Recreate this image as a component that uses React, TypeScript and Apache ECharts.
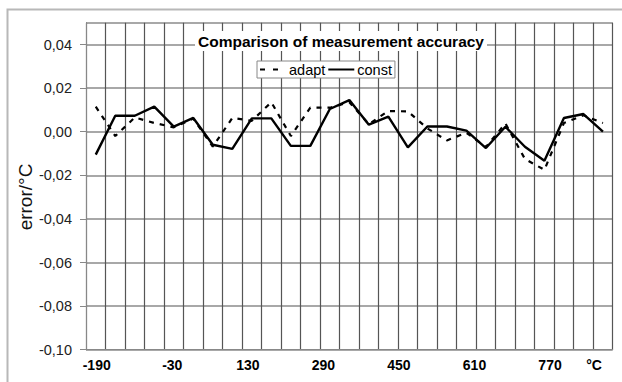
import React, { useEffect, useRef } from "react";
import * as echarts from "echarts";

const categories: string[] = [
  "-190", "-150", "-110", "-70", "-30", "10", "50", "90", "130", "170", "210", "250", "290", "330",
  "370", "410", "450", "490", "530", "570", "610", "650", "690", "730", "770", "810", "850",
];

const adaptValues: number[] = [
  0.0115, -0.002, 0.0065, 0.004, 0.002, 0.006, -0.0069, 0.0063, 0.005, 0.0135, -0.002, 0.011, 0.011, 0.0135,
  0.0035, 0.0095, 0.0093, 0.0015, -0.004, -0.0005, -0.007, 0.0038, -0.0125, -0.0175, 0.004, 0.0075, 0.004,
];

const constValues: number[] = [
  -0.0105, 0.0073, 0.0073, 0.0115, 0.0023, 0.0063, -0.006, -0.0079, 0.0061, 0.0061, -0.0065, -0.0065, 0.0104, 0.0145,
  0.0032, 0.0069, -0.0072, 0.0024, 0.0024, 0.0005, -0.0075, 0.0023, -0.0069, -0.0133, 0.0063, 0.0081, 0.0,
];

const xTickValues: number[] = [-190, -30, 130, 290, 450, 610, 770];
const xUnitLabel = "°C";
const titleText = "Comparison of measurement accuracy";
const yAxisName = "error/°C";

const FONT = "'Liberation Sans', Arial, sans-serif";

const dashedIcon = "path://M0,0H5V2H0Z M13,0H18V2H13Z M26,0L26,2L26,0Z";
const solidIcon = "path://M0,0H26V2H0Z";

export default function App() {
  const ref = useRef<HTMLDivElement>(null);

  useEffect(() => {
    if (!ref.current) return;
    const chart = echarts.init(ref.current, null, { renderer: "svg" });
    const fmtY = (v: number) => {
      if (Math.abs(v) < 1e-9) return "0,00";
      return v.toFixed(2).replace(".", ",");
    };
    chart.setOption({
      animation: false,
      backgroundColor: "#fff",
      title: {
        text: titleText,
        left: 195,
        top: 31,
        padding: [2, 3, 2, 3],
        backgroundColor: "#fff",
        textStyle: { fontFamily: FONT, fontSize: 15.5, fontWeight: "bold", color: "#000" },
      },
      legend: {
        left: 257,
        top: 61,
        padding: [1, 3, 1, 3],
        itemGap: 3,
        itemWidth: 26,
        itemHeight: 2.5,
        backgroundColor: "#fff",
        borderColor: "#888",
        borderWidth: 1,
        borderRadius: 0,
        textStyle: { fontFamily: FONT, fontSize: 14.5, color: "#000", padding: [0, 0, 0, -2] },
        data: [
          { name: "adapt", icon: dashedIcon },
          { name: "const", icon: solidIcon },
        ],
      },
      grid: { left: 86, right: 9.3, top: 22.7, bottom: 32.3, containLabel: false },
      xAxis: [
        {
          type: "category",
          data: categories,
          boundaryGap: true,
          axisLine: { show: true, onZero: false, lineStyle: { color: "#888", width: 1 } },
          axisTick: { show: false },
          axisLabel: { show: false },
          splitLine: { show: true, interval: 0, lineStyle: { color: "#555", width: 1.2 } },
        },
        {
          type: "value",
          position: "bottom",
          min: -212.66,
          max: 902.7,
          axisLine: { show: false, onZero: false },
          axisTick: { show: false },
          splitLine: { show: false },
          axisLabel: {
            customValues: xTickValues,
            margin: 8,
            fontFamily: FONT,
            fontSize: 14,
            fontWeight: "bold",
            color: "#000",
            formatter: (v: number) => String(v),
          },
        },
      ],
      yAxis: {
        type: "value",
        min: -0.1,
        max: 0.05,
        interval: 0.02,
        axisLine: { show: true, onZero: false, lineStyle: { color: "#888", width: 1 } },
        axisTick: { show: true, length: 6, lineStyle: { color: "#888" } },
        axisLabel: {
          showMaxLabel: false,
          margin: 14,
          fontFamily: FONT,
          fontSize: 14.5,
          color: "#222",
          formatter: fmtY,
        },
        splitLine: { show: true, lineStyle: { color: "#a8a8a8", width: 2 } },
      },
      graphic: [
        {
          type: "rect",
          silent: true,
          z: -10,
          shape: { x: 7.5, y: 9.5, width: 720, height: 500 },
          style: { fill: "none", stroke: "#b8b8b8", lineWidth: 2 },
        },
        {
          type: "text",
          x: 25,
          y: 197,
          rotation: Math.PI / 2,
          style: {
            text: yAxisName,
            align: "center",
            verticalAlign: "middle",
            font: `19px ${FONT}`,
            fill: "#111",
          },
        },
        {
          type: "text",
          x: 594,
          y: 358,
          style: {
            text: xUnitLabel,
            align: "center",
            verticalAlign: "top",
            font: `bold 14px ${FONT}`,
            fill: "#000",
          },
        },
      ],
      series: [
        {
          name: "adapt",
          type: "line",
          data: adaptValues,
          symbol: "none",
          color: "#000",
          lineStyle: { color: "#000", width: 2.2, type: [5, 6] },
          z: 3,
        },
        {
          name: "const",
          type: "line",
          data: constValues,
          symbol: "none",
          color: "#000",
          lineStyle: { color: "#000", width: 2.4, type: "solid" },
          z: 4,
        },
      ],
    });
    return () => chart.dispose();
  }, []);

  return (
    <div
      ref={ref}
      style={{ position: "absolute", left: 0, top: 0, width: 622, height: 382 }}
    />
  );
}
